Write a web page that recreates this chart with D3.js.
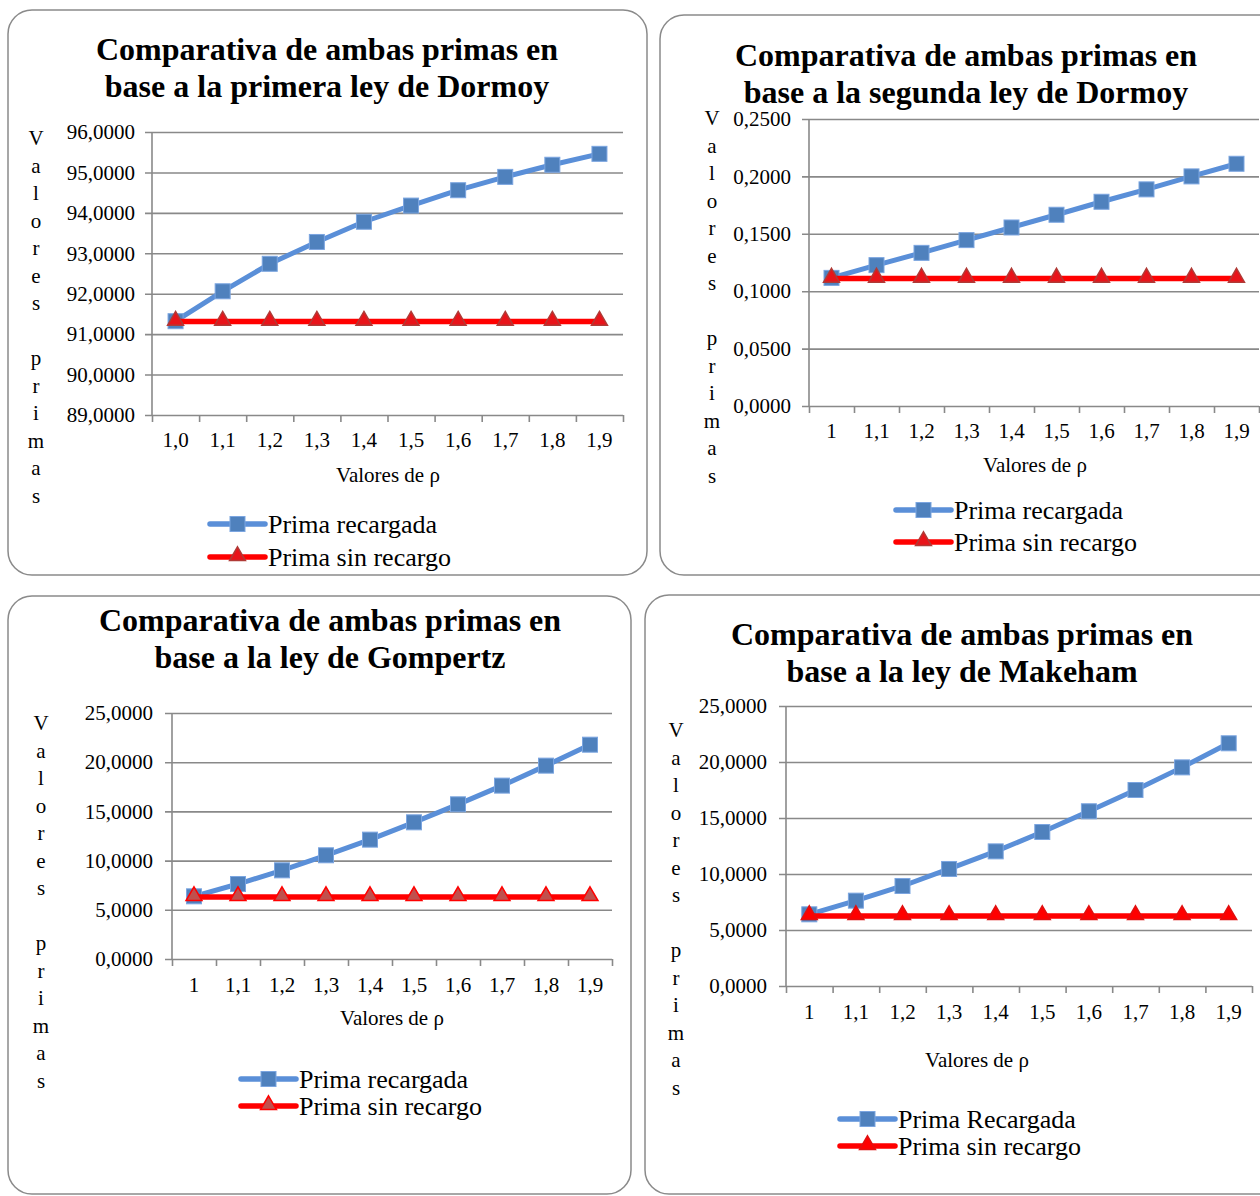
<!DOCTYPE html>
<html>
<head>
<meta charset="utf-8">
<script src="https://cdn.jsdelivr.net/npm/d3@7"></script>
<style>
  body { margin: 0; background: #fff; }
  svg { display: block; }
  text { font-family: "Liberation Serif", "Times New Roman", serif; fill: #000; }
</style>
</head>
<body>
<script>
// valores de rho en el eje x
var rhoLabels1 = ["1,0", "1,1", "1,2", "1,3", "1,4", "1,5", "1,6", "1,7", "1,8", "1,9"];
var rhoLabels = ["1", "1,1", "1,2", "1,3", "1,4", "1,5", "1,6", "1,7", "1,8", "1,9"];

// primera ley de Dormoy
var dormoy1Recargada = [91.32, 92.06, 92.74, 93.28, 93.78, 94.18, 94.56, 94.89, 95.19, 95.46];
var dormoy1SinRecargo = [91.31, 91.31, 91.31, 91.31, 91.31, 91.31, 91.31, 91.31, 91.31, 91.31];
var dormoy1Ticks = [89, 90, 91, 92, 93, 94, 95, 96];

// segunda ley de Dormoy
var dormoy2Recargada = [0.1116, 0.1227, 0.1334, 0.1445, 0.1555, 0.1666, 0.1779, 0.1887, 0.2000, 0.2110];
var dormoy2SinRecargo = [0.1110, 0.1110, 0.1110, 0.1110, 0.1110, 0.1110, 0.1110, 0.1110, 0.1110, 0.1110];
var dormoy2Ticks = [0, 0.05, 0.10, 0.15, 0.20, 0.25];

// ley de Gompertz
var gompertzRecargada = [6.37, 7.62, 9.01, 10.54, 12.13, 13.89, 15.72, 17.62, 19.65, 21.78];
var gompertzSinRecargo = [6.30, 6.30, 6.30, 6.30, 6.30, 6.30, 6.30, 6.30, 6.30, 6.30];

// ley de Makeham
var makehamRecargada = [6.40, 7.62, 8.93, 10.45, 12.02, 13.75, 15.60, 17.50, 19.52, 21.67];
var makehamSinRecargo = [6.25, 6.25, 6.25, 6.25, 6.25, 6.25, 6.25, 6.25, 6.25, 6.25];
var gompMakTicks = [0, 5, 10, 15, 20, 25];

var svg = d3.select("body").append("svg")
  .attr("width", 1260)
  .attr("height", 1196);

var comma4 = function(v) { return d3.format(".4f")(v).replace(".", ","); };
var yLetters = "Valores primas".split("");

function drawPanel(p) {
  var g = svg.append("g");

  // marco redondeado
  g.append("rect")
    .attr("x", p.box[0]).attr("y", p.box[1])
    .attr("width", p.box[2]).attr("height", p.box[3])
    .attr("rx", 24).attr("ry", 24)
    .attr("fill", "#fff")
    .attr("stroke", "#8a8a8a")
    .attr("stroke-width", 1.5);

  // titulo en dos lineas
  p.title.forEach(function(t, i) {
    g.append("text")
      .attr("x", p.titleX)
      .attr("y", p.titleY + i * 37)
      .attr("text-anchor", "middle")
      .style("font-size", "32px")
      .style("font-weight", "bold")
      .text(t);
  });

  var w = p.plot[2], h = p.plot[3];
  var plot = g.append("g").attr("transform", "translate(" + p.plot[0] + "," + p.plot[1] + ")");

  var x = d3.scaleBand().domain(p.cats).range([0, w]);
  var xEdges = d3.scaleLinear().domain([0, p.cats.length]).range([0, w]);
  var y = d3.scaleLinear().domain([p.ticks[0], p.ticks[p.ticks.length - 1]]).range([h, 0]);

  // eje y con rejilla
  var yAxis = plot.append("g")
    .call(d3.axisLeft(y).tickValues(p.ticks).tickFormat(comma4).tickSizeInner(-w).tickSizeOuter(0).tickPadding(16));
  yAxis.select(".domain").remove();
  yAxis.selectAll(".tick line")
    .attr("x1", -7)
    .attr("x2", w)
    .attr("stroke", "#898989")
    .attr("stroke-width", 1.6);
  yAxis.selectAll(".tick text")
    .attr("x", p.yLabelX)
    .style("font-size", "21px")
    .style("font-family", "Liberation Serif, serif");

  plot.append("line")
    .attr("x1", 0).attr("x2", 0).attr("y1", 0).attr("y2", h)
    .attr("stroke", "#898989").attr("stroke-width", 1.6);

  // marcas del eje x en los limites de cada categoria
  var xTicks = plot.append("g")
    .attr("transform", "translate(0," + h + ")")
    .call(d3.axisBottom(xEdges).tickValues(d3.range(p.cats.length + 1)).tickFormat("").tickSize(7).tickSizeOuter(0));
  xTicks.select(".domain").remove();
  xTicks.selectAll(".tick line").attr("stroke", "#898989").attr("stroke-width", 1.6);

  var xLabels = plot.append("g")
    .attr("transform", "translate(0," + h + ")")
    .call(d3.axisBottom(x).tickSize(0).tickPadding(p.xPad));
  xLabels.select(".domain").remove();
  xLabels.selectAll(".tick text")
    .style("font-size", "21px")
    .style("font-family", "Liberation Serif, serif");

  // titulo eje x
  g.append("text")
    .attr("x", p.xTitle[0]).attr("y", p.xTitle[1])
    .attr("text-anchor", "middle")
    .style("font-size", "21px")
    .text("Valores de ρ");

  // titulo eje y, letra a letra
  g.append("g").selectAll("text")
    .data(yLetters)
    .enter().append("text")
    .attr("x", p.yTitle[0])
    .attr("y", function(d, i) { return p.yTitle[1] + i * 27.5; })
    .attr("text-anchor", "middle")
    .style("font-size", "21px")
    .text(function(d) { return d; });

  var cx = function(d, i) { return x(p.cats[i]) + x.bandwidth() / 2; };
  var line = d3.line().x(cx).y(function(d) { return y(d); });

  plot.append("path").datum(p.recargada)
    .attr("d", line).attr("fill", "none")
    .attr("stroke", "#5a8fd8").attr("stroke-width", 5).attr("stroke-linejoin", "round");
  plot.selectAll(".sq").data(p.recargada).enter().append("rect")
    .attr("x", function(d, i) { return cx(d, i) - 7.5; })
    .attr("y", function(d) { return y(d) - 7.5; })
    .attr("width", 15).attr("height", 15)
    .attr("fill", "#4f81bd").attr("stroke", "#7ba5e0").attr("stroke-width", 1);

  plot.append("path").datum(p.sinRecargo)
    .attr("d", line).attr("fill", "none")
    .attr("stroke", "#ff0000").attr("stroke-width", 5.5);
  var tri = d3.symbol().type(d3.symbolTriangle).size(110);
  plot.selectAll(".tri").data(p.sinRecargo).enter().append("path")
    .attr("d", tri)
    .attr("transform", function(d, i) { return "translate(" + cx(d, i) + "," + (y(d) - 1) + ")"; })
    .attr("fill", p.triFill).attr("stroke", p.triStroke).attr("stroke-width", 1.5);

  // leyenda
  var names = [p.legend1, "Prima sin recargo"];
  names.forEach(function(n, i) {
    var lg = g.append("g").attr("transform", "translate(" + p.legend[0] + "," + (p.legend[1] + i * p.legendGap) + ")");
    lg.append("line").attr("x1", 0).attr("x2", 55).attr("y1", 0).attr("y2", 0)
      .attr("stroke", i === 0 ? "#5a8fd8" : "#ff0000").attr("stroke-width", 5.5).attr("stroke-linecap", "round");
    if (i === 0) {
      lg.append("rect").attr("x", 20).attr("y", -7.5).attr("width", 15).attr("height", 15)
        .attr("fill", "#4f81bd").attr("stroke", "#7ba5e0");
    } else {
      lg.append("path").attr("d", tri).attr("transform", "translate(27.5,-1)")
        .attr("fill", p.triFill).attr("stroke", p.triStroke).attr("stroke-width", 1.5);
    }
    lg.append("text").attr("x", 58).attr("y", 8.5)
      .style("font-size", "26px")
      .text(n);
  });
}

drawPanel({
  box: [8, 10, 639, 565],
  title: ["Comparativa de ambas primas en", "base a la primera ley de Dormoy"],
  titleX: 327, titleY: 60,
  plot: [152, 132, 471, 283],
  cats: rhoLabels1, ticks: dormoy1Ticks,
  recargada: dormoy1Recargada, sinRecargo: dormoy1SinRecargo,
  yLabelX: -17, xPad: 17,
  xTitle: [388, 482], yTitle: [36, 145],
  legend: [210, 524], legendGap: 33, legend1: "Prima recargada",
  triFill: "#e8141a", triStroke: "#b03a36"
});

drawPanel({
  box: [660, 15, 640, 560],
  title: ["Comparativa de ambas primas en", "base a la segunda ley de Dormoy"],
  titleX: 966, titleY: 66,
  plot: [809, 119, 450, 287],
  cats: rhoLabels, ticks: dormoy2Ticks,
  recargada: dormoy2Recargada, sinRecargo: dormoy2SinRecargo,
  yLabelX: -18, xPad: 17,
  xTitle: [1035, 472], yTitle: [712, 125],
  legend: [896, 510], legendGap: 32, legend1: "Prima recargada",
  triFill: "#e8141a", triStroke: "#b03a36"
});

drawPanel({
  box: [8, 596, 623, 598],
  title: ["Comparativa de ambas primas en", "base a la ley de Gompertz"],
  titleX: 330, titleY: 631,
  plot: [172, 713, 440, 246],
  cats: rhoLabels, ticks: gompMakTicks,
  recargada: gompertzRecargada, sinRecargo: gompertzSinRecargo,
  yLabelX: -19, xPad: 18,
  xTitle: [392, 1025], yTitle: [41, 730],
  legend: [241, 1079], legendGap: 27, legend1: "Prima recargada",
  triFill: "#c0504d", triStroke: "#ff0000"
});

drawPanel({
  box: [645, 595, 650, 599],
  title: ["Comparativa de ambas primas en", "base a la ley de Makeham"],
  titleX: 962, titleY: 645,
  plot: [786, 706, 466, 280],
  cats: rhoLabels, ticks: gompMakTicks,
  recargada: makehamRecargada, sinRecargo: makehamSinRecargo,
  yLabelX: -19, xPad: 18,
  xTitle: [977, 1067], yTitle: [676, 737],
  legend: [840, 1119], legendGap: 27, legend1: "Prima Recargada",
  triFill: "#ff0000", triStroke: "#e01010"
});
</script>
</body>
</html>
